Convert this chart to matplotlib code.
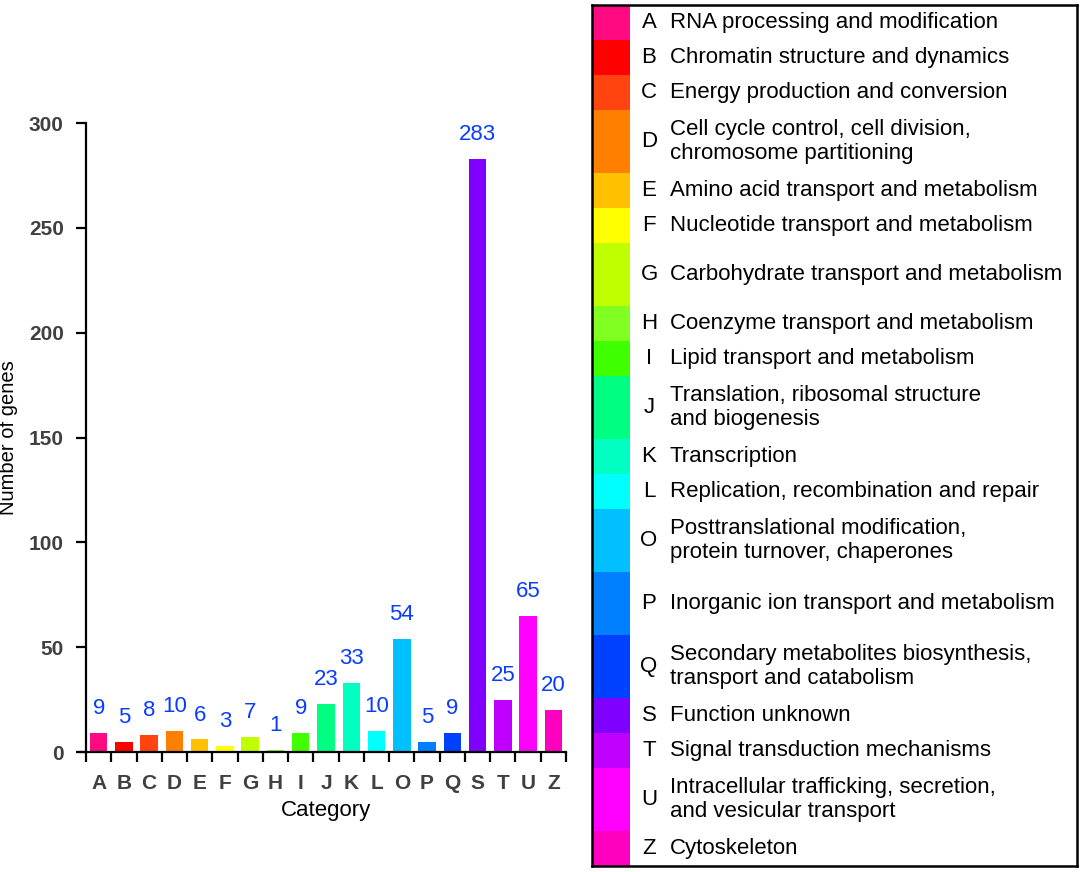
import matplotlib
matplotlib.use("Agg")
import matplotlib.pyplot as plt
from matplotlib.patches import Rectangle
import numpy as np

plt.rcParams['font.family'] = ['Liberation Sans', 'DejaVu Sans']

# data
categories = ["A", "B", "C", "D", "E", "F", "G", "H", "I", "J", "K", "L",
              "O", "P", "Q", "S", "T", "U", "Z"]
counts = [9, 5, 8, 10, 6, 3, 7, 1, 9, 23, 33, 10, 54, 5, 9, 283, 25, 65, 20]
colors = ["#ff0a80", "#ff0000", "#ff4410", "#ff8000", "#ffc000", "#ffff00",
          "#c0ff00", "#80ff20", "#40ff00", "#00ff80", "#00ffc0", "#00ffff",
          "#00c0ff", "#0080ff", "#0040ff", "#8000ff", "#c000ff", "#ff00ff",
          "#ff00c0"]
descriptions = [
    "RNA processing and modification",
    "Chromatin structure and dynamics",
    "Energy production and conversion",
    "Cell cycle control, cell division,\nchromosome partitioning",
    "Amino acid transport and metabolism",
    "Nucleotide transport and metabolism",
    "Carbohydrate transport and metabolism",
    "Coenzyme transport and metabolism",
    "Lipid transport and metabolism",
    "Translation, ribosomal structure\nand biogenesis",
    "Transcription",
    "Replication, recombination and repair",
    "Posttranslational modification,\nprotein turnover, chaperones",
    "Inorganic ion transport and metabolism",
    "Secondary metabolites biosynthesis,\ntransport and catabolism",
    "Function unknown",
    "Signal transduction mechanisms",
    "Intracellular trafficking, secretion,\nand vesicular transport",
    "Cytoskeleton",
]
# legend row heights (tall rows for G and P too)
row_h = [35, 35, 35, 63, 35, 35, 63, 35, 35, 63, 35, 35, 63, 63, 63, 35, 35, 63, 35]

W, H = 1084, 872
fig = plt.figure(figsize=(W / 100, H / 100), dpi=100)

# bar chart
ax = fig.add_axes([86 / W, 1 - 752 / H, 480 / W, 629 / H])
x = np.arange(len(categories))
ax.bar(x, counts, width=0.69, color=colors)
for xi, v in zip(x, counts):
    ax.annotate(str(v), (xi, v), xytext=(0, 10), textcoords="offset points",
                ha="center", va="bottom", fontsize=16, color="#0a3cff")

ax.set_xlim(-0.5, len(categories) - 0.5)
ax.set_ylim(0, 300)
ax.set_yticks([0, 50, 100, 150, 200, 250, 300])
ax.set_xticks(np.arange(len(categories) + 1) - 0.5)
ax.set_xticklabels([])
ax.set_xticks(x, minor=True)
ax.set_xticklabels(categories, minor=True)
ax.tick_params(axis="x", which="minor", length=0, pad=16)
ax.tick_params(axis="both", which="major", length=7, width=1.6, direction="out")
ax.tick_params(axis="y", pad=9)
for lab in ax.get_yticklabels() + ax.get_xticklabels(minor=True):
    lab.set_fontsize(15)
    lab.set_fontweight("bold")
    lab.set_color("#404040")
for s in ["top", "right"]:
    ax.spines[s].set_visible(False)
for s in ["left", "bottom"]:
    ax.spines[s].set_linewidth(1.6)
ax.plot([-0.82, -0.5], [0, 0], color="black", lw=1.6, clip_on=False,
        solid_capstyle="butt")
ax.set_ylabel("Number of genes", fontsize=14.5)
ax.yaxis.set_label_coords(-68 / 480, 0.5)
ax.set_xlabel("Category", fontsize=16, labelpad=5)

# legend panel
lg = fig.add_axes([592 / W, 1 - 866 / H, 485 / W, 861 / H])
total = sum(row_h)
lg.set_xlim(0, 485)
lg.set_ylim(total, 0)
y0 = 0
for cat, desc, col, h in zip(categories, descriptions, colors, row_h):
    lg.add_patch(Rectangle((1, y0), 37, h, facecolor=col, edgecolor="none"))
    yc = y0 + h / 2
    lg.text(57, yc, cat, ha="center", va="center", fontsize=16)
    lg.text(78, yc, desc, ha="left", va="center", fontsize=16,
            linespacing=1.2)
    y0 += h
lg.set_xticks([])
lg.set_yticks([])
for s in lg.spines.values():
    s.set_linewidth(1.8)

fig.savefig("out.png", dpi=100)
